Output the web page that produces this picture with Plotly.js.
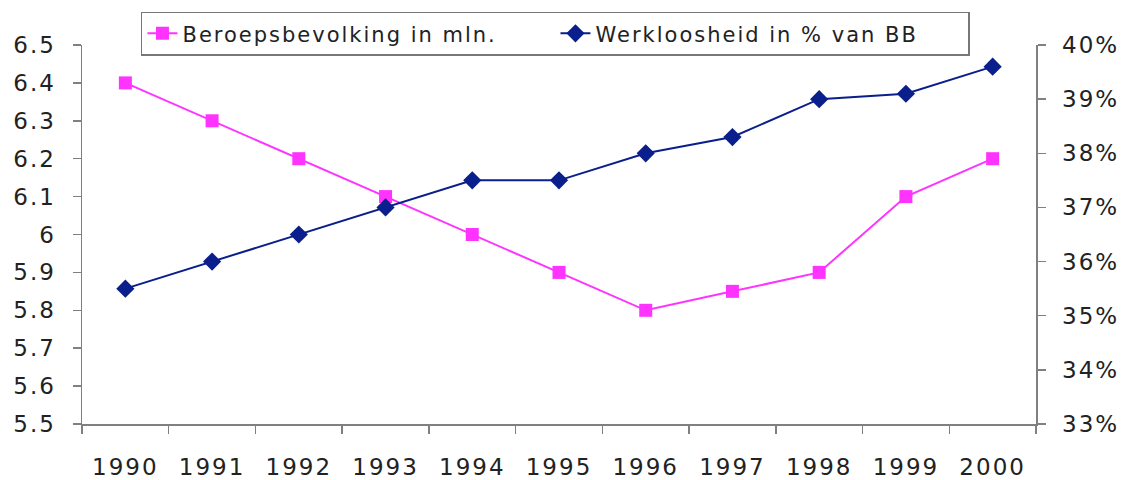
<!DOCTYPE html>
<html>
<head>
<meta charset="utf-8">
<script src="https://cdn.plot.ly/plotly-3.0.1.min.js"></script>
<style>
html,body{margin:0;padding:0;background:#fff}
#chart{width:1133px;height:480px}
svg text{letter-spacing:2px}
</style>
</head>
<body>
<div id="chart"></div>
<script>
const years = ['1990','1991','1992','1993','1994','1995','1996','1997','1998','1999','2000'];
const beroepsbevolking = [6.4, 6.3, 6.2, 6.1, 6.0, 5.9, 5.8, 5.85, 5.9, 6.1, 6.2];
const werkloosheid = [0.355, 0.360, 0.365, 0.370, 0.375, 0.375, 0.380, 0.383, 0.390, 0.391, 0.396];
const leftTicks = [5.5, 5.6, 5.7, 5.8, 5.9, 6.0, 6.1, 6.2, 6.3, 6.4, 6.5];
const leftTickText = ['5.5','5.6','5.7','5.8','5.9','6','6.1','6.2','6.3','6.4','6.5'];
const rightTicks = [0.33, 0.34, 0.35, 0.36, 0.37, 0.38, 0.39, 0.40];
const rightTickText = ['33%','34%','35%','36%','37%','38%','39%','40%'];

const font = 'DejaVu Sans, Verdana, sans-serif';
const axisGray = '#808080';

const traces = [
  {
    x: years, y: beroepsbevolking, name: 'Beroepsbevolking in mln.',
    type: 'scatter', mode: 'lines+markers',
    line: {color: '#FF33FF', width: 2},
    marker: {symbol: 'square', size: 13, color: '#FF33FF'},
    xaxis: 'x', yaxis: 'y'
  },
  {
    x: years, y: werkloosheid, name: 'Werkloosheid in % van BB',
    type: 'scatter', mode: 'lines+markers',
    line: {color: '#0A1E8C', width: 2},
    marker: {symbol: 'diamond', size: 14, color: '#0A1E8C'},
    xaxis: 'x', yaxis: 'y2'
  }
];

const baseTick = {color: '#222', size: 23, family: font};

const layout = {
  width: 1133, height: 480,
  margin: {l: 82, r: 97, t: 45, b: 56},
  paper_bgcolor: '#fff', plot_bgcolor: '#fff',
  font: {family: font, color: '#222'},
  showlegend: true,
  legend: {
    orientation: 'h', x: 0.4963, xanchor: 'center', y: 1.088, yanchor: 'top',
    bordercolor: '#777', borderwidth: 1.5, bgcolor: '#fff',
    font: {size: 21, family: font, color: '#222'},
    entrywidth: 368, entrywidthmode: 'pixels', tracegroupgap: 0
  },
  xaxis: {
    type: 'category', categoryorder: 'array', categoryarray: years,
    range: [-0.5, 10.5], tickson: 'boundaries',
    showline: true, linecolor: axisGray, linewidth: 1.5,
    ticks: 'outside', ticklen: 8, tickwidth: 1.5, tickcolor: axisGray,
    ticklabelstandoff: 22, tickfont: baseTick,
    showgrid: false, zeroline: false, fixedrange: true
  },
  xaxis2: {
    overlaying: 'x', type: 'linear', range: [-0.5, 10.5],
    tick0: -0.5, dtick: 1, ticks: 'inside', ticklen: 8, tickwidth: 1.5, tickcolor: axisGray,
    showticklabels: false, showline: false, showgrid: false, zeroline: false, side: 'bottom'
  },
  yaxis: {
    range: [5.5, 6.5], tickvals: leftTicks, ticktext: leftTickText,
    showline: true, linecolor: axisGray, linewidth: 1.5,
    ticks: 'outside', ticklen: 8, tickwidth: 1.5, tickcolor: axisGray,
    ticklabelstandoff: 12, tickfont: baseTick,
    showgrid: false, zeroline: false
  },
  yaxis3: {
    overlaying: 'y', side: 'left', range: [5.5, 6.5], tickvals: leftTicks,
    ticks: 'inside', ticklen: 8, tickwidth: 1.5, tickcolor: axisGray,
    showticklabels: false, showline: false, showgrid: false, zeroline: false
  },
  yaxis2: {
    overlaying: 'y', side: 'right', range: [0.33, 0.40],
    tickvals: rightTicks, ticktext: rightTickText,
    showline: true, linecolor: axisGray, linewidth: 1.5,
    ticks: 'outside', ticklen: 8, tickwidth: 1.5, tickcolor: axisGray,
    ticklabelstandoff: 12, tickfont: baseTick,
    showgrid: false, zeroline: false
  },
  yaxis4: {
    overlaying: 'y', side: 'right', range: [0.33, 0.40], tickvals: rightTicks,
    ticks: 'inside', ticklen: 8, tickwidth: 1.5, tickcolor: axisGray,
    showticklabels: false, showline: false, showgrid: false, zeroline: false
  }
};

Plotly.newPlot('chart', traces, layout, {staticPlot: true, displayModeBar: false});
</script>
</body>
</html>
